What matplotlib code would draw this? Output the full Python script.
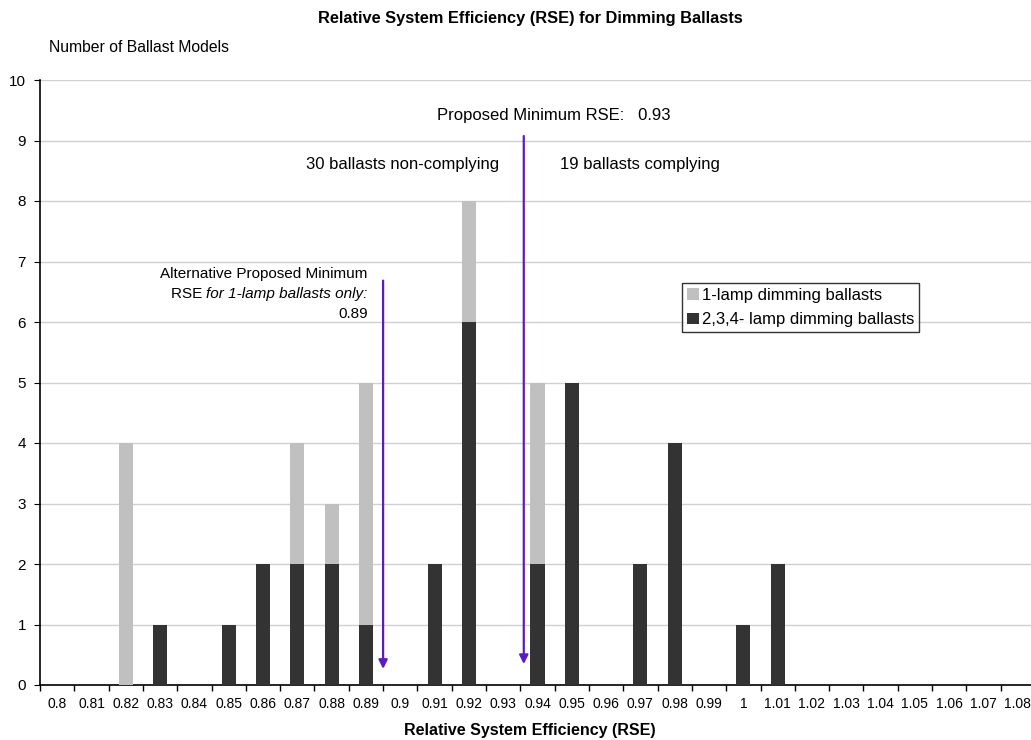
import numpy as np
import matplotlib
matplotlib.use('Agg')
from matplotlib import pyplot as plt

plt.rcParams['font.family'] = ['Liberation Sans', 'DejaVu Sans']

# data
rse = ['0.8', '0.81', '0.82', '0.83', '0.84', '0.85', '0.86', '0.87', '0.88', '0.89',
       '0.9', '0.91', '0.92', '0.93', '0.94', '0.95', '0.96', '0.97', '0.98', '0.99',
       '1', '1.01', '1.02', '1.03', '1.04', '1.05', '1.06', '1.07', '1.08']
multi_lamp = [0, 0, 0, 1, 0, 1, 2, 2, 2, 1, 0, 2, 6, 0, 2, 5, 0, 2, 4, 0, 1, 2, 0, 0, 0, 0, 0, 0, 0]
one_lamp = [0, 0, 4, 0, 0, 0, 0, 2, 1, 4, 0, 0, 2, 0, 3, 0, 0, 0, 0, 0, 0, 0, 0, 0, 0, 0, 0, 0, 0]

x = np.arange(len(rse))

fig = plt.figure(figsize=(10.31, 7.40), dpi=100)
ax = fig.add_axes([40/1031, 55/740, 995/1031, 605/740])

ax.bar(x, multi_lamp, width=0.41, color='#333333', label='2,3,4- lamp dimming ballasts', zorder=3)
ax.bar(x, one_lamp, width=0.41, bottom=multi_lamp, color='#c0c0c0', label='1-lamp dimming ballasts', zorder=3)

ax.set_xlim(-0.5, len(rse) - 0.5)
ax.set_ylim(0, 10)
ax.set_yticks(range(0, 11))
ax.grid(axis='y', color='#d0d0d0', linewidth=1, zorder=0)
ax.set_xticks(x)
ax.set_xticklabels(rse)
ax.set_xticks(np.arange(-0.5, len(rse) + 0.5, 1), minor=True)
ax.tick_params(axis='x', which='major', length=0, labelsize=10, pad=9)
ax.tick_params(axis='x', which='minor', length=4, direction='out', width=1)
ax.tick_params(axis='y', length=4, labelsize=11, pad=6)
for s in ['top', 'right']:
    ax.spines[s].set_visible(False)
ax.spines['left'].set_linewidth(1.2)
ax.spines['bottom'].set_linewidth(1.2)

# arrows for the proposed minimums
arrow_col = '#5a1cc0'
ax.annotate('', xy=(9.5, 0.22), xytext=(9.5, 6.73),
            arrowprops=dict(arrowstyle='-|>', color=arrow_col, lw=1.6, mutation_scale=13), zorder=4)
ax.annotate('', xy=(13.6, 0.3), xytext=(13.6, 9.12),
            arrowprops=dict(arrowstyle='-|>', color=arrow_col, lw=1.6, mutation_scale=13), zorder=4)

ax.text(14.46, 9.42, 'Proposed Minimum RSE:   0.93', ha='center', va='center', fontsize=12)
ax.text(10.07, 8.6, '30 ballasts non-complying', ha='center', va='center', fontsize=12)
ax.text(17.0, 8.6, '19 ballasts complying', ha='center', va='center', fontsize=12)
ax.text(9.05, 6.8, 'Alternative Proposed Minimum', ha='right', va='center', fontsize=11)
it_txt = ax.text(9.05, 6.47, 'for 1-lamp ballasts only:', ha='right', va='center',
                 fontsize=11, style='italic')
ax.text(9.05, 6.14, '0.89', ha='right', va='center', fontsize=11)

# put the upright "RSE " just left of the italic part
fig.canvas.draw()
bb = it_txt.get_window_extent()
x_left = ax.transData.inverted().transform((bb.x0, bb.y0))[0]
ax.text(x_left, 6.47, 'RSE ', ha='right', va='center', fontsize=11)

leg = ax.legend(handles=ax.containers[::-1], loc='upper left', bbox_to_anchor=(642/995, (685-283)/605),
                fontsize=12, frameon=True, fancybox=False, edgecolor='black', handlelength=0.7,
                handleheight=0.7, handletextpad=0.2, borderpad=0.3, labelspacing=0.55, borderaxespad=0)
leg.get_frame().set_linewidth(1)

fig.text(530/1031, 1 - 18/740, 'Relative System Efficiency (RSE) for Dimming Ballasts',
         ha='center', va='center', fontsize=11.75, fontweight='bold')
fig.text(49/1031, 1 - 48/740, 'Number of Ballast Models', ha='left', va='center', fontsize=11.3)
fig.text(530/1031, 1 - 730/740, 'Relative System Efficiency (RSE)', ha='center', va='center',
         fontsize=11.5, fontweight='bold')

fig.savefig('out.png', dpi=100)
